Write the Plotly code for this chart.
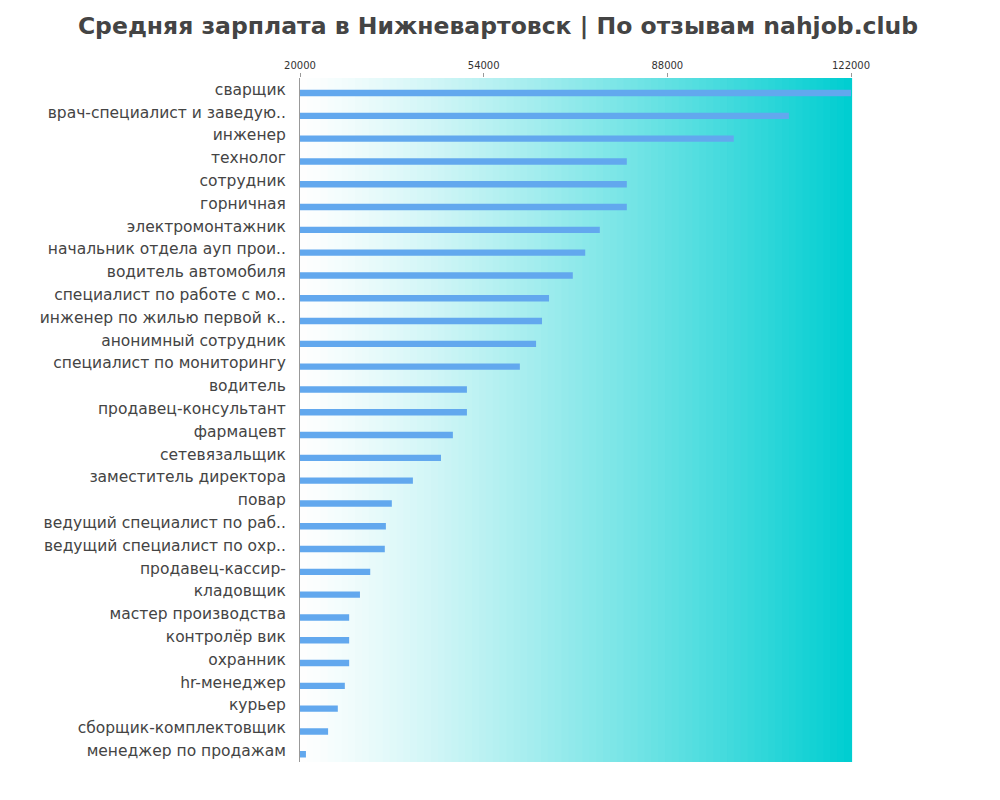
import plotly.graph_objects as go

jobs = ["сварщик", "врач-специалист и заведую..", "инженер", "технолог", "сотрудник",
        "горничная", "электромонтажник", "начальник отдела ауп прои..", "водитель автомобиля",
        "специалист по работе с мо..", "инженер по жилью первой к..", "анонимный сотрудник",
        "специалист по мониторингу", "водитель", "продавец-консультант", "фармацевт",
        "сетевязальщик", "заместитель директора", "повар", "ведущий специалист по раб..",
        "ведущий специалист по охр..", "продавец-кассир-", "кладовщик", "мастер производства",
        "контролёр вик", "охранник", "hr-менеджер", "курьер", "сборщик-комплектовщик",
        "менеджер по продажам"]
salary = [122000, 110500, 100300, 80500, 80500, 80500, 75500, 72800, 70500, 66100,
          64800, 63700, 60700, 50900, 50900, 48300, 46100, 40900, 37000, 35900,
          35700, 33000, 31100, 29100, 29100, 29100, 28300, 27000, 25200, 21100]
ticks = [20000, 54000, 88000, 122000]

fig = go.Figure(go.Bar(
    x=salary, y=jobs, orientation="h", base=0,
    marker=dict(color="#62a8ee", line=dict(width=0)),
    width=0.28, offset=0.02,
))

# background gradient white -> turquoise
n = 80
shapes = []
for i in range(n):
    t = ((i + 0.5) / n) ** 1.2
    r = int(255 * (1 - t))
    g = int(255 * (1 - t) + 206 * t)
    b = int(255 * (1 - t) + 209 * t)
    shapes.append(dict(type="rect", xref="paper", yref="paper", x0=i / n, x1=(i + 1) / n + 0.002,
                       y0=0, y1=1, fillcolor=f"rgb({r},{g},{b})", line=dict(width=0), layer="below"))

fig.update_layout(
    width=1000, height=800,
    margin=dict(l=292, r=157, t=70, b=46),
    paper_bgcolor="white", plot_bgcolor="white",
    shapes=shapes,
    title=dict(text="<b>Средняя зарплата в Нижневартовск | По отзывам nahjob.club</b>",
               x=0.49, xanchor="center", y=0.978, yanchor="middle",
               font=dict(size=23.5, color="#444", family="DejaVu Sans")),
    xaxis=dict(range=[20000, 122000], side="top", tickvals=ticks, ticktext=[str(t) for t in ticks],
               showgrid=False, zeroline=False, ticks="outside", ticklen=4, tickcolor="#999",
               automargin=False, tickfont=dict(size=10, color="#333", family="DejaVu Sans")),
    yaxis=dict(autorange="reversed", showline=True, linecolor="#999", showgrid=False,
               automargin=False, ticks="", ticklabelstandoff=10,
               tickfont=dict(size=15.5, color="#444", family="DejaVu Sans")),
    showlegend=False,
)
fig.write_html("out.html")
